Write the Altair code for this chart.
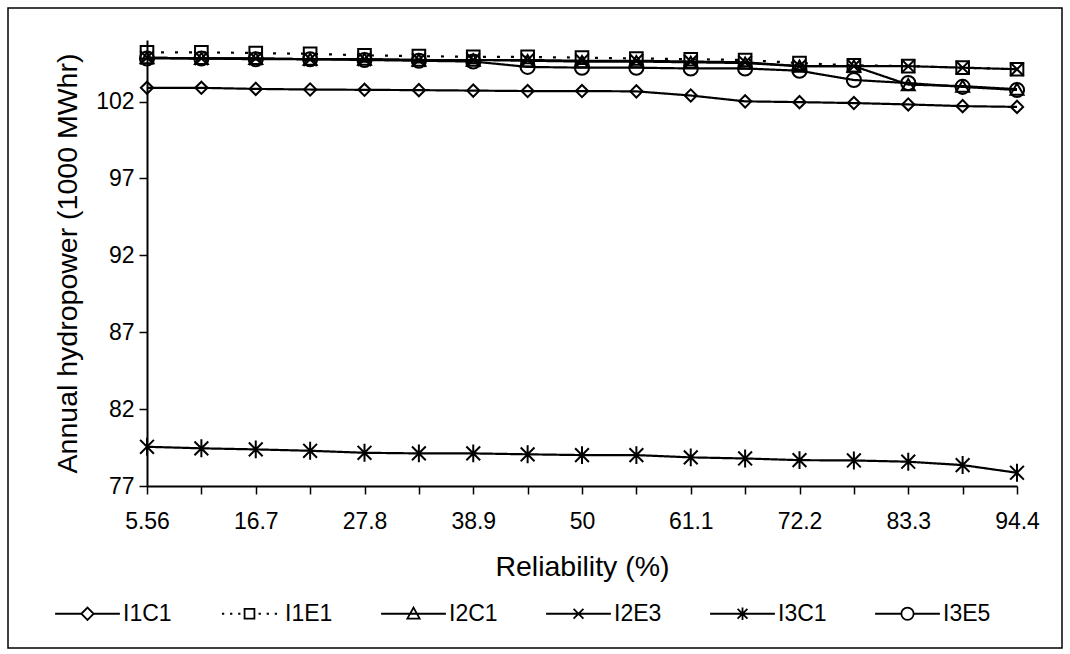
import altair as alt
import pandas as pd

# ---------------- data ----------------
x_labels = ["5.56", "11.1", "16.7", "22.2", "27.8", "33.3", "38.9", "44.4", "50",
            "55.6", "61.1", "66.7", "72.2", "77.8", "83.3", "88.9", "94.4"]
shown_labels = x_labels[::2]

series_names = ["I1C1", "I1E1", "I2C1", "I2E3", "I3C1", "I3E5"]

I1C1 = [102.89, 102.89, 102.82, 102.78, 102.76, 102.74, 102.71, 102.68, 102.68,
        102.66, 102.39, 102.01, 101.96, 101.90, 101.81, 101.70, 101.65]
I1E1 = [105.20, 105.20, 105.15, 105.10, 105.00, 104.95, 104.90, 104.90, 104.85,
        104.80, 104.75, 104.70, 104.50, 104.35, 104.30, 104.20, 104.10]
I2C1 = [104.85, 104.80, 104.80, 104.75, 104.75, 104.70, 104.70, 104.65, 104.60,
        104.60, 104.55, 104.50, 104.30, 104.30, 103.10, 103.00, 102.80]
I2E3 = [104.85, 104.80, 104.80, 104.75, 104.75, 104.70, 104.70, 104.70, 104.65,
        104.65, 104.60, 104.55, 104.30, 104.30, 104.30, 104.20, 104.10]
I3C1 = [79.55, 79.45, 79.38, 79.29, 79.16, 79.12, 79.12, 79.06, 79.01,
        79.01, 78.86, 78.79, 78.68, 78.66, 78.58, 78.36, 77.86]
I3E5 = [104.80, 104.80, 104.75, 104.75, 104.70, 104.65, 104.60, 104.25, 104.20,
        104.20, 104.15, 104.15, 104.00, 103.40, 103.20, 102.95, 102.75]

y_ticks = [77, 82, 87, 92, 97, 102]

values = {"I1C1": I1C1, "I1E1": I1E1, "I2C1": I2C1,
          "I2E3": I2E3, "I3C1": I3C1, "I3E5": I3E5}
rows = []
for s in series_names:
    for lab, v in zip(x_labels, values[s]):
        rows.append({"rel": lab, "series": s, "power": v})
df = pd.DataFrame(rows)

# ---------------- styles ----------------
FONT = "Liberation Sans"
X_PATH = "M-1,-1L1,1M-1,1L1,-1"
AST_PATH = "M-1,-1L1,1M-1,1L1,-1M0,-1.3L0,1.3"
plot_shapes = ["diamond", "square", "triangle-up", X_PATH, AST_PATH, "circle"]
plot_sizes = [150, 200, 170, 120, 120, 140]
dashes = [[1, 0], [3, 11], [1, 0], [1, 0], [1, 0], [1, 0]]

m = 0.19
legend_paths = [
    f"M-1,0H-{m}M{m},0H1M-{m},0L0,-{m}L{m},0L0,{m}Z",
    f"M-0.85,0H-0.78M-0.6,0H-0.53M-0.35,0H-0.28M0.28,0H0.35M0.53,0H0.6M0.78,0H0.85"
    f"M-{m*0.8},-{m*0.8}H{m*0.8}V{m*0.8}H-{m*0.8}Z",
    f"M-1,0H1M-{m},{m*0.8}L0,-{m}L{m},{m*0.8}Z",
    f"M-1,0H1M-{m*0.8},-{m*0.8}L{m*0.8},{m*0.8}M-{m*0.8},{m*0.8}L{m*0.8},-{m*0.8}",
    f"M-1,0H1M-{m*0.8},-{m*0.8}L{m*0.8},{m*0.8}M-{m*0.8},{m*0.8}L{m*0.8},-{m*0.8}M0,-{m}L0,{m}",
    f"M-1,0H-{m}M{m},0H1M{m},0A{m},{m} 0 1,1 -{m},0A{m},{m} 0 1,1 {m},0Z",
]

x_enc = alt.X("rel:N", sort=x_labels,
              scale=alt.Scale(type="point", domain=x_labels, padding=0),
              axis=alt.Axis(title="Reliability (%)",
                            labelExpr="indexof(" + str(shown_labels) + ", datum.value) >= 0 ? datum.label : ''",
                            labelAngle=0, labelPadding=16, tickSize=8,
                            titlePadding=19))
y_enc = alt.Y("power:Q",
              scale=alt.Scale(domain=[77, 106], nice=False, zero=False),
              axis=alt.Axis(title="Annual hydropower (1000 MWhr)",
                            values=y_ticks, tickSize=8, labelPadding=5,
                            titlePadding=13, grid=False))

base = alt.Chart(df)

lines = base.mark_line(color="black", strokeWidth=2.2).encode(
    x=x_enc, y=y_enc, detail="series:N",
    strokeDash=alt.StrokeDash("series:N",
                              scale=alt.Scale(domain=series_names, range=dashes),
                              legend=None),
)

points = base.mark_point(filled=False, color="black", strokeWidth=2, opacity=1).encode(
    x=x_enc, y=y_enc,
    shape=alt.Shape("series:N", scale=alt.Scale(domain=series_names, range=plot_shapes),
                    legend=None),
    size=alt.Size("series:N", scale=alt.Scale(domain=series_names, range=plot_sizes),
                  legend=None),
)

legend_layer = base.transform_filter("false").mark_point(
    filled=False, color="black", strokeWidth=1.8, opacity=1
).encode(
    x=x_enc, y=y_enc,
    shape=alt.Shape("series:N",
                    scale=alt.Scale(domain=series_names, range=legend_paths),
                    legend=alt.Legend(title=None, orient="none", direction="horizontal",
                                      columns=6, legendX=-93, legendY=540,
                                      symbolSize=4200, symbolStrokeWidth=1.8,
                                      symbolStrokeColor="black",
                                      symbolFillColor="transparent",
                                      labelFontSize=23, labelFont=FONT,
                                      labelColor="black", labelOffset=2,
                                      columnPadding=44, padding=0)),
)

frame = alt.Chart(alt.Data(values=[{}])).mark_rect(
    fill=None, stroke="black", strokeWidth=1.5, clip=False
).encode(x=alt.value(-139), x2=alt.value(915), y=alt.value(-32), y2=alt.value(608))

chart = alt.layer(frame, lines, points, legend_layer).resolve_scale(
    shape="independent", size="independent"
).properties(
    width=870, height=446,
    autosize=alt.AutoSizeParams(type="none"),
    padding={"left": 147, "top": 40, "right": 53, "bottom": 168},
    background="white",
).configure_view(stroke=None).configure_axis(
    domainColor="black", domainWidth=2, tickColor="black", tickWidth=1.5,
    labelFont=FONT, titleFont=FONT, labelFontSize=23, titleFontSize=28.5,
    labelColor="black", titleColor="black", titleFontWeight="normal",
)

chart.save("out.html", embed_options={"renderer": "svg", "actions": False})
